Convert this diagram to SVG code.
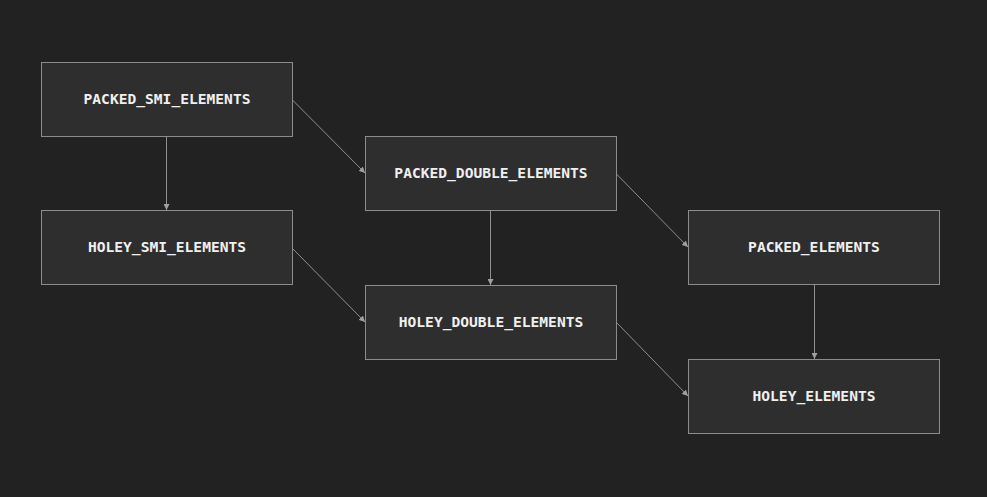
<svg xmlns="http://www.w3.org/2000/svg" width="987" height="497" viewBox="0 0 987 497">
<style>
.n rect{fill:#2e2e2e;stroke:#8c8c8c;stroke-width:1}
.n text{fill:#f0f0f0;font-family:"DejaVu Sans Mono","Liberation Mono",monospace;font-size:14.6px;font-weight:bold;text-anchor:middle;dominant-baseline:central}
.e line{stroke:#8f8f8f;stroke-width:1;marker-end:url(#a)}
</style>
<defs>
<marker id="a" viewBox="0 0 10 10" refX="10" refY="5" markerWidth="6" markerHeight="6" markerUnits="userSpaceOnUse" orient="auto">
<path d="M0,0L10,5L0,10z" fill="#a0a0a0"/>
</marker>
</defs>
<rect width="987" height="497" fill="#222222"/>
<g class="e" id="connectors">
<line x1="166.5" y1="136" x2="166.5" y2="210"/>
<line x1="292" y1="99.5" x2="365" y2="173"/>
<line x1="292" y1="248" x2="365" y2="322"/>
<line x1="490.5" y1="210" x2="490.5" y2="285"/>
<line x1="616" y1="173.5" x2="688" y2="247"/>
<line x1="616" y1="322" x2="688" y2="396"/>
<line x1="814.5" y1="285" x2="814.5" y2="359"/>
</g>
<g class="n" id="packed_smi"><rect x="41.5" y="62.5" width="251" height="74"/><text x="167" y="98.5">PACKED_SMI_ELEMENTS</text></g>
<g class="n" id="holey_smi"><rect x="41.5" y="210.5" width="251" height="74"/><text x="167" y="246.5">HOLEY_SMI_ELEMENTS</text></g>
<g class="n" id="packed_double"><rect x="365.5" y="136.5" width="251" height="74"/><text x="491" y="172.5">PACKED_DOUBLE_ELEMENTS</text></g>
<g class="n" id="holey_double"><rect x="365.5" y="285.5" width="251" height="74"/><text x="491" y="321.5">HOLEY_DOUBLE_ELEMENTS</text></g>
<g class="n" id="packed"><rect x="688.5" y="210.5" width="251" height="74"/><text x="814" y="246.5">PACKED_ELEMENTS</text></g>
<g class="n" id="holey"><rect x="688.5" y="359.5" width="251" height="74"/><text x="814" y="395.5">HOLEY_ELEMENTS</text></g>
</svg>
